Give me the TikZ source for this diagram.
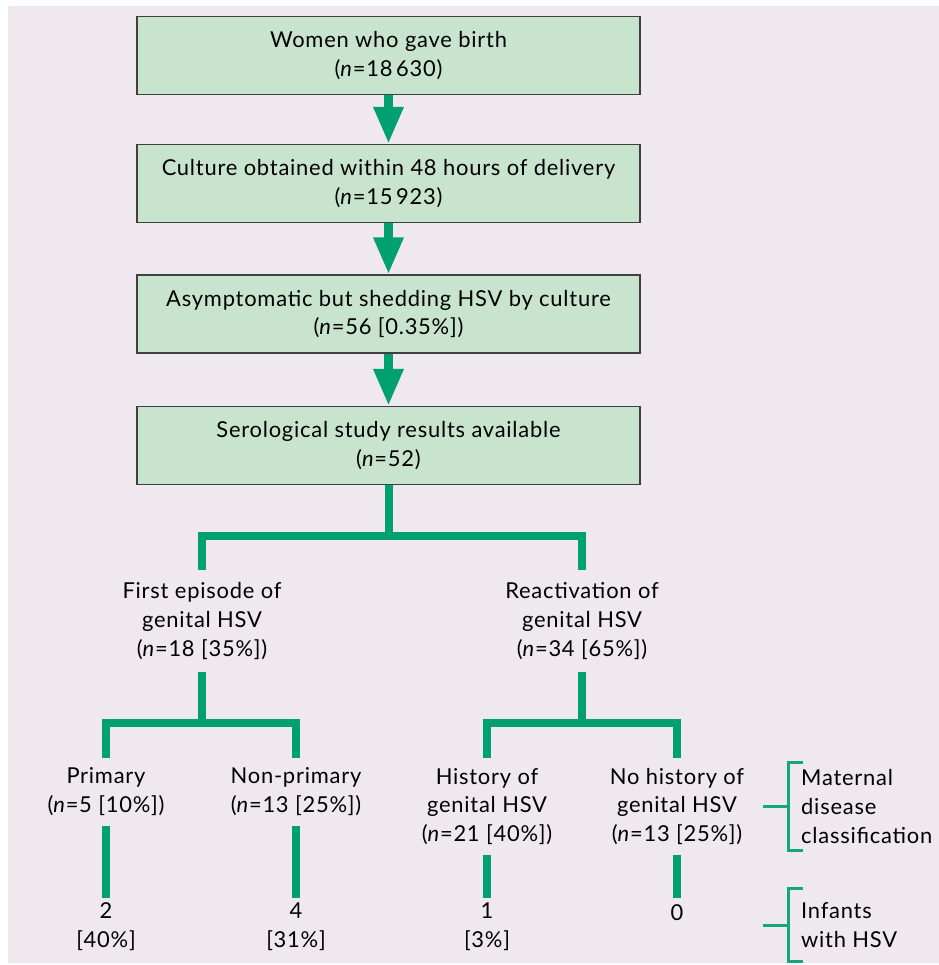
\documentclass[tikz,border=0pt]{standalone}
\usepackage{fontspec}
\setmainfont[LetterSpace=3.5]{Lato}
\usetikzlibrary{arrows.meta,calc}
\definecolor{bg}{HTML}{EFE8EF}
\definecolor{boxfill}{HTML}{C8E4CE}
\definecolor{grn}{HTML}{00A070}
\definecolor{brkgrn}{HTML}{14A878}
\begin{document}
\begin{tikzpicture}[x=1bp,y=-1bp,
  font=\fontsize{22}{29}\selectfont,
  box/.style={draw=black!75, line width=1.2bp, fill=boxfill, minimum width=503bp, minimum height=78bp, align=center, inner sep=0pt},
  lbl/.style={align=center, inner sep=0pt},
  flow/.style={draw=grn, line width=9bp, -{Triangle[width=28bp,length=37bp]}},
  tree/.style={draw=grn, line width=8bp},
  brk/.style={draw=brkgrn, line width=3bp}]
\useasboundingbox (0,0) rectangle (939,965);
\fill[bg] (8,6) rectangle (939,963);
% boxes
\node[box] (b1) at (388.5,55.5) {Women who gave birth\\(\textit{n}=18\,630)};
\node[box] (b2) at (388.5,183.5) {Culture obtained within 48 hours of delivery\\(\textit{n}=15\,923)};
\node[box] (b3) at (388.5,314) {Asymptomatic but shedding HSV by culture\\(\textit{n}=56 [0.35\%])};
\node[box] (b4) at (388.5,445.5) {Serological study results available\\(\textit{n}=52)};
\draw[flow] (b1.south) -- (b2.north);
\draw[flow] (b2.south) -- (b3.north);
\draw[flow] (b3.south) -- (b4.north);
% level 2
\node[lbl, minimum height=102bp] (fe) at (202,621) {First episode of\\genital HSV\\(\textit{n}=18 [35\%])};
\node[lbl, minimum height=102bp] (ra) at (582,621) {Reactivation of\\genital HSV\\(\textit{n}=34 [65\%])};
% level 3
\node[lbl, minimum height=68bp] (pr) at (106,792) {Primary\\(\textit{n}=5 [10\%])};
\node[lbl, minimum height=68bp] (np) at (296,792) {Non-primary\\(\textit{n}=13 [25\%])};
\node[lbl, minimum height=97bp] (hi) at (487,806.5) {History of\\genital HSV\\(\textit{n}=21 [40\%])};
\node[lbl, minimum height=97bp] (nh) at (677,806.5) {No history of\\genital HSV\\(\textit{n}=13 [25\%])};
% level 4
\node[lbl, minimum height=58bp] (i1) at (106,927) {2\\{}[40\%]};
\node[lbl, minimum height=58bp] (i2) at (296,927) {4\\{}[31\%]};
\node[lbl, minimum height=58bp] (i3) at (487,927) {1\\{}[3\%]};
\node[lbl, minimum height=58bp] (i4) at (677,927) {0\\{}};
% tree
\draw[tree] (b4.south) -- ++(0,51) coordinate (j1);
\draw[tree] (fe.north) |- (j1) -| (ra.north);
\draw[tree] (fe.south) -- ++(0,51) coordinate (j2);
\draw[tree] (pr.north) |- (j2) -| (np.north);
\draw[tree] (ra.south) -- ++(0,51) coordinate (j3);
\draw[tree] (hi.north) |- (j3) -| (nh.north);
\draw[tree] (pr.south) -- (i1.north);
\draw[tree] (np.south) -- (i2.north);
\draw[tree] (hi.south) -- (i3.north);
\draw[tree] (nh.south) -- (i4.north);
% side labels
\node[align=left, inner sep=0pt, anchor=west, minimum height=87bp] (mat) at (801,806.5) {Maternal\\disease\\classification};
\node[align=left, inner sep=0pt, anchor=west, minimum height=72bp] (inf) at (801,925) {Infants\\with HSV};
\draw[brk] ([xshift=2bp]mat.north west) -- ([xshift=-13bp]mat.north west) -- ([xshift=-13bp]mat.south west) -- ([xshift=2bp]mat.south west);
\draw[brk] ([xshift=-13bp]mat.west) -- ([xshift=-38bp]mat.west);
\draw[brk] ([xshift=2bp]inf.north west) -- ([xshift=-13bp]inf.north west) -- ([xshift=-13bp]inf.south west) -- ([xshift=2bp]inf.south west);
\draw[brk] ([xshift=-13bp]inf.west) -- ([xshift=-38bp]inf.west);
\end{tikzpicture}
\end{document}
